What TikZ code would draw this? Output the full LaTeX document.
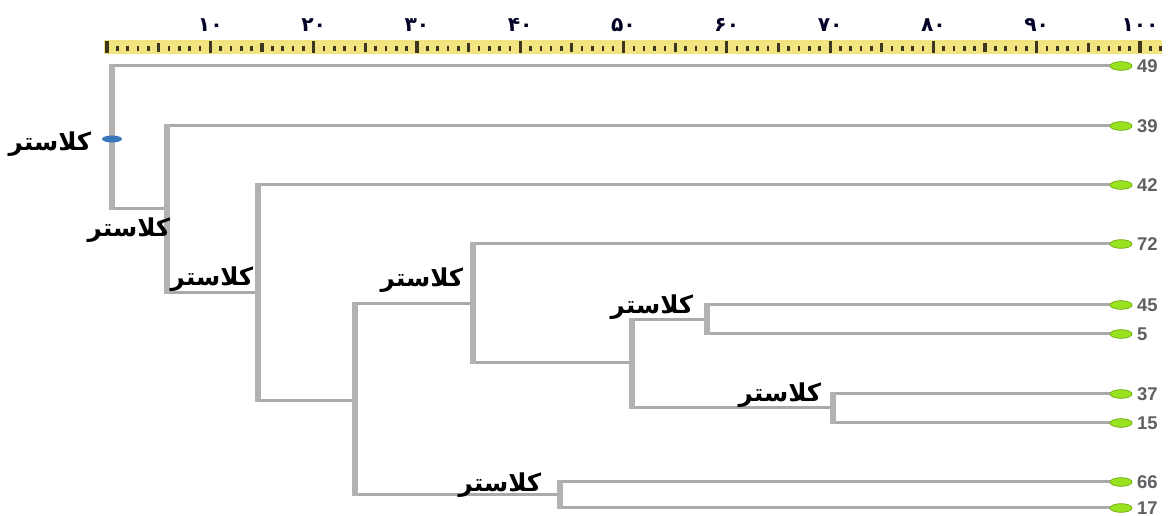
\documentclass[tikz,border=0pt]{standalone}
\usepackage{fontspec}
\setmainfont{Liberation Sans}
\newfontfamily\arabicfont[Script=Arabic]{DejaVu Sans}
\TeXXeTstate=1
\usetikzlibrary{shapes.geometric,positioning}
\usepackage{xcolor}
\definecolor{lgray}{RGB}{170,170,170}
\definecolor{rulery}{RGB}{242,228,128}
\definecolor{tickdark}{RGB}{60,55,30}
\definecolor{leafgreen}{RGB}{152,226,32}
\definecolor{rootblue}{RGB}{58,118,188}
\definecolor{numgray}{RGB}{95,95,100}

\begin{document}
\begin{tikzpicture}[x=0.02cm, y=-0.02cm,
    leaf/.style={ellipse, fill=leafgreen, draw=leafgreen!75!black, line width=0.3pt, minimum width=0.44cm, minimum height=0.17cm, inner sep=0pt},
    hline/.style={draw=lgray, line width=0.06cm},
    vline/.style={draw=lgray!90, line width=0.11cm, shorten <=-0.03cm, shorten >=-0.03cm},
    klabel/.style={inner sep=0pt, font=\fontsize{14}{14}\selectfont\arabicfont\bfseries},
    num/.style={inner sep=0pt, text=numgray, font=\fontsize{10.5}{10.5}\selectfont\bfseries}]

    \useasboundingbox (0,0) rectangle (1171,516);

    % ruler
    \fill[rulery] (104,40) rectangle (1162,54);
    \foreach \t in {0,...,102} {
        \pgfmathsetmacro\tx{107+10.33*\t}
        \pgfmathtruncatemacro\m{mod(\t,10)}
        \pgfmathtruncatemacro\f{mod(\t,5)}
        \ifnum\m=0
            \fill[tickdark] (\tx-1.6,41) rectangle (\tx+1.6,53);
        \else\ifnum\f=0
            \fill[tickdark] (\tx-1.6,43.5) rectangle (\tx+1.6,52.5);
        \else
            \fill[tickdark] (\tx-1.3,46.5) rectangle (\tx+1.3,51.5);
        \fi\fi
    }
    \foreach \lab [count=\c, evaluate=\c as \px using {107+103.3*\c}]
        in {۱۰, ۲۰, ۳۰, ۴۰, ۵۰, ۶۰, ۷۰, ۸۰, ۹۰, ۱۰۰} {
            \node[inner sep=0pt, text=black!85!blue, font=\fontsize{11.5}{11.5}\selectfont\arabicfont\bfseries] (r\c) at (\px,25) {\lab};
    }

    % leaves
    \foreach \lab/\py in {49/66, 39/126, 42/185, 72/244, 45/305, 5/334, 37/394, 15/423, 66/482, 17/508} {
        \node[leaf] (l\lab) at (1121,\py) {};
        \node[num, right=2.5pt of l\lab] (t\lab) {\lab};
    }

    % clusters
    \coordinate (k0) at (112,137);
    \coordinate (kA) at (167,209);
    \coordinate (kB) at (258,293);
    \coordinate (kC) at (355,401);
    \coordinate (kD) at (473,304);
    \coordinate (kE) at (632,363);
    \coordinate (kF1) at (707,320);
    \coordinate (kF2) at (833,408);
    \coordinate (kG) at (560,495);

    \foreach \k/\a/\b in {k0/l49/kA, kA/l39/kB, kB/l42/kC, kC/kD/kG, kD/l72/kE,
                          kE/kF1/kF2, kF1/l45/l5, kF2/l37/l15, kG/l66/l17} {
        \draw[hline] (\k |- \a) -- (\a);
        \draw[hline] (\k |- \b) -- (\b);
    }
    \foreach \k/\a/\b in {k0/l49/kA, kA/l39/kB, kB/l42/kC, kC/kD/kG, kD/l72/kE,
                          kE/kF1/kF2, kF1/l45/l5, kF2/l37/l15, kG/l66/l17} {
        \draw[vline] (\k |- \a) -- (\k |- \b);
    }
    \foreach \k in {49, 39, 42, 72, 45, 5, 37, 15, 66, 17} {
        \node[leaf] at (l\k) {};
    }

    \node[ellipse, fill=rootblue, minimum width=0.4cm, minimum height=0.14cm, inner sep=0pt] (kdot) at (112,139) {};

    % cluster labels
    \foreach \nm/\px/\py in {n0/50/144, nA/129/230, nB/212/279, nD/422/280, nF1/652/307, nF2/780/395, nG/500/485} {
        \node[klabel] (\nm) at (\px,\py) {\beginR کلاستر\endR};
    }

\end{tikzpicture}
\end{document}
